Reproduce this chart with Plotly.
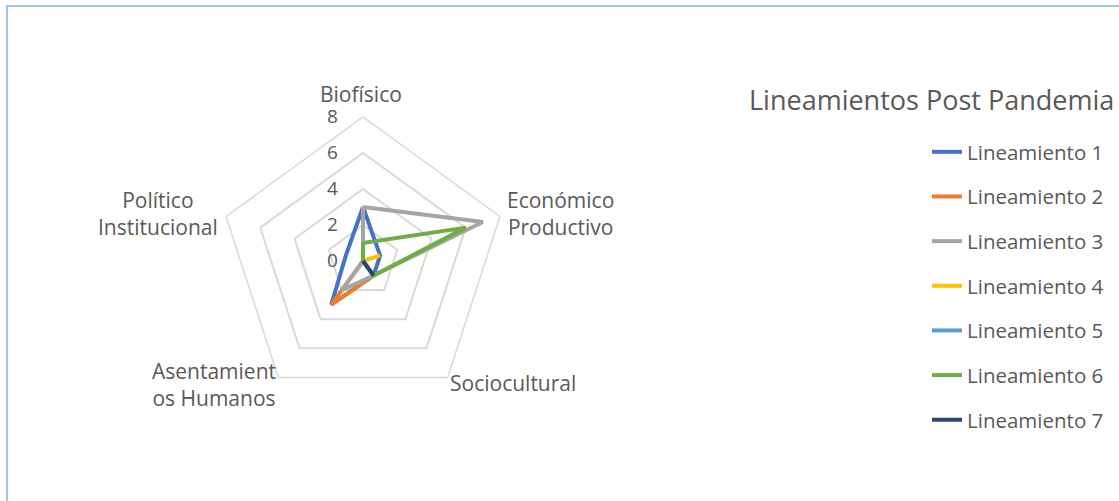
import plotly.graph_objects as go

categories = ["Biofísico", "Económico Productivo", "Sociocultural",
              "Asentamientos Humanos", "Político Institucional"]
category_labels = ["Biofísico", "Económico<br>Productivo", "Sociocultural",
                   "Asentamient<br>os Humanos", "Político<br>Institucional"]
series_names = ["Lineamiento 1", "Lineamiento 2", "Lineamiento 3", "Lineamiento 4",
                "Lineamiento 5", "Lineamiento 6", "Lineamiento 7"]
lin1 = [3, 1, 1, 3, 1]
lin2 = [0, 0, 1, 3, 0]
lin3 = [3, 7, 1, 2, 0]
lin4 = [0, 1, 0, 0, 0]
lin5 = [0, 0, 0, 0, 0]
lin6 = [1, 6, 1, 0, 0]
lin7 = [0, 0, 1, 0, 0]
radial_ticks = [0, 2, 4, 6, 8]
title_text = "Lineamientos Post Pandemia"

values = [lin1, lin2, lin3, lin4, lin5, lin6, lin7]
colors = ["#4472C4", "#ED7D31", "#A5A5A5", "#FFC000", "#5B9BD5", "#70AD47", "#264478"]

FONT = "Open Sans"
TXT = "#595959"
W, H = 1119, 501

fig = go.Figure()
for i, (name, vals) in enumerate(zip(series_names, values)):
    fig.add_trace(go.Scatterpolar(
        r=vals + vals[:1], theta=categories + categories[:1],
        mode="lines", name=name, legendgroup=name,
        line=dict(color=colors[i], width=4),
    ))

# category label placement (pixel centres)
label_pos = [(361, 94), (560, 214), (513, 383), (214, 384), (158, 214)]
annotations = [dict(text=t, x=px / W, y=1 - py / H, xref="paper", yref="paper",
                    xanchor="center", yanchor="middle", align="center", showarrow=False,
                    font=dict(size=21, color=TXT, family=FONT))
               for t, (px, py) in zip(category_labels, label_pos)]

cx, cy, R = 363, 261, 144
fig.update_layout(
    width=W, height=H,
    margin=dict(l=0, r=0, t=0, b=0),
    paper_bgcolor="white", plot_bgcolor="white",
    font=dict(family=FONT, color=TXT),
    title=dict(text=title_text, x=749 / W, xanchor="left", y=1 - 101 / H, yanchor="middle",
               font=dict(size=27, color=TXT, family=FONT)),
    polar=dict(
        domain=dict(x=[(cx - R) / W, (cx + R) / W], y=[1 - (cy + R) / H, 1 - (cy - R) / H]),
        gridshape="linear",
        bgcolor="white",
        angularaxis=dict(rotation=90, direction="clockwise", showgrid=False,
                         showline=True, linecolor="#D9D9D9", linewidth=1.5,
                         ticks="", showticklabels=False),
        radialaxis=dict(range=[0, 8], tickvals=radial_ticks, angle=90, tickangle=90,
                        side="counterclockwise", showline=False,
                        gridcolor="#D9D9D9", gridwidth=1.5,
                        ticks="outside", ticklen=18, tickcolor="rgba(0,0,0,0)",
                        tickfont=dict(size=19, color=TXT)),
    ),
    legend=dict(x=927 / W, xanchor="left", y=1 - 132 / H, yanchor="top",
                font=dict(size=20.5, color=TXT), tracegroupgap=15, bgcolor="rgba(0,0,0,0)"),
    annotations=annotations,
    shapes=[dict(type="rect", xref="paper", yref="paper",
                 x0=7 / W, x1=1.05, y0=-0.05, y1=1 - 6 / H,
                 line=dict(color="#9DC3E6", width=2))],
)

fig.write_html("out.html", config={"displayModeBar": False},
               post_script="document.body.style.margin='0';document.body.style.overflow='hidden';")
